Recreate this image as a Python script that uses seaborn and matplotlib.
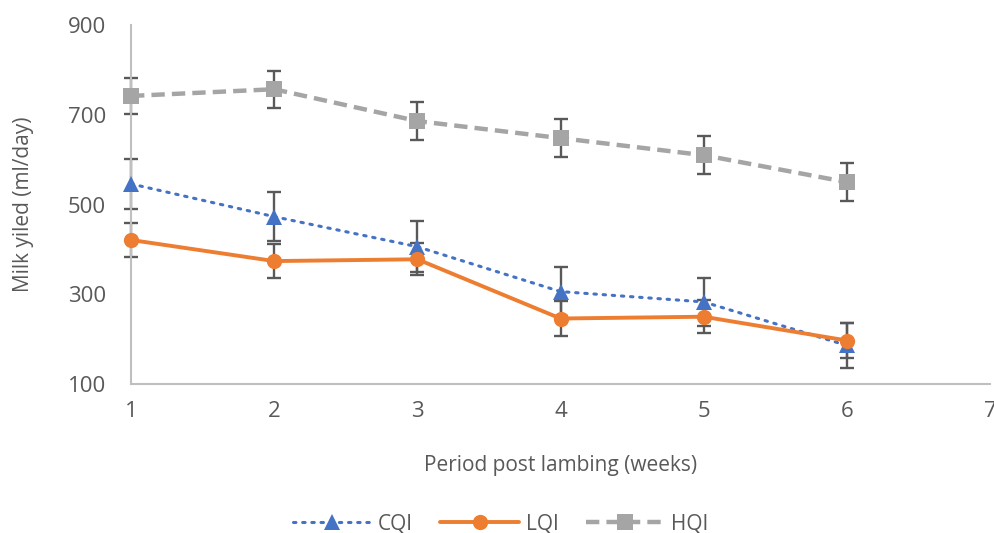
import matplotlib
matplotlib.use("Agg")
import matplotlib.pyplot as plt
import seaborn as sns
import pandas as pd

weeks = [1, 2, 3, 4, 5, 6]
cqi = [546, 473, 406, 306, 283, 186]
lqi = [421, 374, 378, 246, 250, 197]
hqi = [742, 757, 686, 648, 610, 550]
cqi_err = [55, 55, 57, 55, 54, 50]
lqi_err = [37, 38, 36, 38, 37, 38]
hqi_err = [41, 41, 42, 42, 42, 42]
series = ["CQI", "LQI", "HQI"]
yticks = [100, 300, 500, 700, 900]
xticks = [1, 2, 3, 4, 5, 6, 7]

df = pd.DataFrame({
    "week": weeks * 3,
    "value": cqi + lqi + hqi,
    "err": cqi_err + lqi_err + hqi_err,
    "series": ["CQI"] * 6 + ["LQI"] * 6 + ["HQI"] * 6,
})

sns.set_theme(style="white")
plt.rcParams["font.family"] = ["Open Sans", "DejaVu Sans"]

fig = plt.figure(figsize=(9.95, 5.33), dpi=100)
ax = fig.add_axes([0.1317, 0.2795, 0.8633, 0.6735])

colors = {"CQI": "#4472C4", "LQI": "#ED7D31", "HQI": "#A5A5A5"}
markers = {"CQI": "^", "LQI": "o", "HQI": "s"}
styles = {"CQI": (0, (0.8, 2.2)), "LQI": "-", "HQI": (0, (3, 1.6))}
widths = {"CQI": 2.2, "LQI": 2.8, "HQI": 3.2}

for s in series:
    d = df[df.series == s]
    ax.errorbar(d["week"], d["value"], yerr=d["err"], fmt="none",
                ecolor="#595959", elinewidth=1.7, capsize=5, capthick=1.7,
                zorder=2, clip_on=False)

for s in series:
    d = df[df.series == s]
    sns.lineplot(data=d, x="week", y="value", ax=ax, color=colors[s],
                 marker=markers[s], markersize=11, markeredgewidth=0,
                 linewidth=widths[s], label=s, zorder=3, clip_on=False,
                 dash_capstyle="round" if s == "CQI" else "butt")
    ax.lines[-1].set_linestyle(styles[s])

ax.set_xlim(1, 7)
ax.set_ylim(100, 900)
ax.set_xticks(xticks)
ax.set_yticks(yticks)
ax.tick_params(axis="both", labelsize=16, colors="#595959", length=0)
ax.tick_params(axis="x", pad=12)
ax.tick_params(axis="y", pad=18)
ax.set_xlabel("Period post lambing (weeks)", fontsize=15, color="#595959", labelpad=24)
ax.set_ylabel("Milk yiled (ml/day)", fontsize=15, color="#595959", labelpad=24)

for sp in ["top", "right"]:
    ax.spines[sp].set_visible(False)
ax.spines["left"].set_color("#BFBFBF")
ax.spines["bottom"].set_color("#BFBFBF")
ax.spines["left"].set_linewidth(1.5)
ax.spines["bottom"].set_linewidth(1.5)
ax.grid(False)

leg = ax.legend(loc="center", bbox_to_anchor=(0.43, -0.39), ncol=3, frameon=False,
                fontsize=15, handlelength=3.8, columnspacing=1.3, handletextpad=0.3)
for t in leg.get_texts():
    t.set_color("#595959")

fig.savefig("out.png", dpi=100)
